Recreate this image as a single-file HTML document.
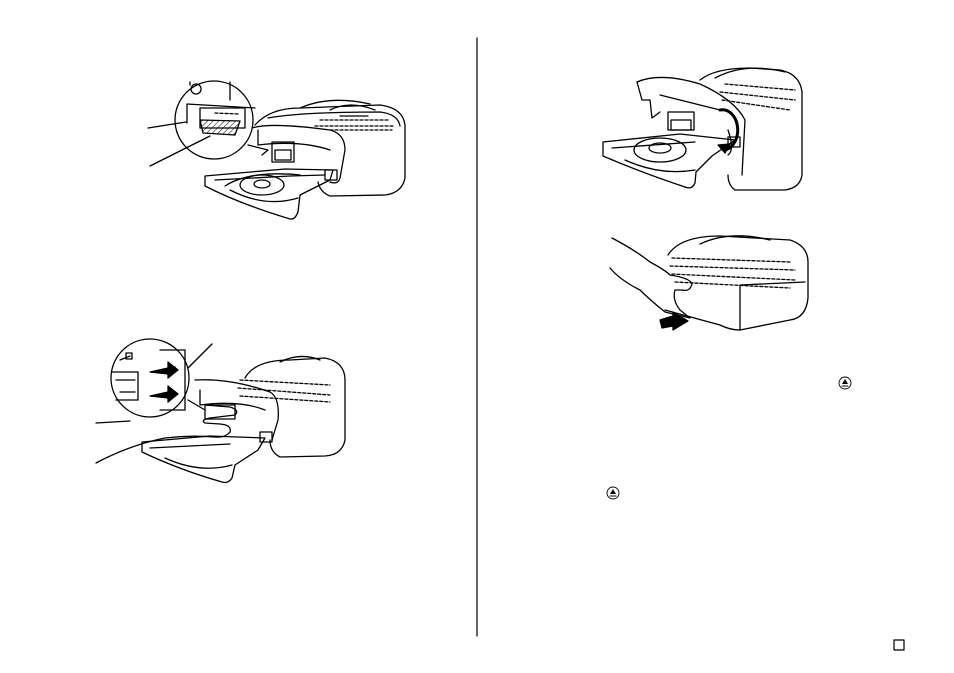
<!DOCTYPE html>
<html><head><meta charset="utf-8"><style>
html,body{margin:0;padding:0;background:#fff;}
svg{display:block}
</style></head><body>
<svg width="954" height="673" viewBox="0 0 954 673" xmlns="http://www.w3.org/2000/svg" fill="none" stroke="#000" stroke-width="1.3" stroke-linejoin="round" stroke-linecap="round">
<line x1="477" y1="38" x2="477" y2="636" stroke-width="1.2"/>
<rect x="894" y="640" width="10" height="10" stroke-width="1.2"/>
<g font-family="Liberation Sans, sans-serif" font-size="9">
<circle cx="845" cy="383" r="6" stroke-width="0.9"/><path d="M842 384 L845 379 L848 384 Z" fill="#000" stroke="none"/><line x1="842" y1="386" x2="848" y2="386" stroke-width="0.9"/>
<circle cx="613" cy="493" r="6" stroke-width="0.9"/><path d="M610 494 L613 489 L616 494 Z" fill="#000" stroke="none"/><line x1="610" y1="496" x2="616" y2="496" stroke-width="0.9"/>
</g>

<!-- Printer 1 -->
<g>
<path d="M255 125 Q270 108 300 108 L380 105 Q403 108 405 125 L405 178 Q402 193 385 195 L330 196 Q320 192 318 182"/>
<path d="M300 108 Q330 95 370 104"/>
<path d="M268 118 Q300 112 380 112 Q398 114 400 126"/>
<path d="M330 110 Q350 100 375 110 M340 116 L368 116"/>
<path d="M320 120 L390 120 M315 126 L395 126 M330 130 L392 130" stroke-dasharray="3 2"/>
<path d="M252 128 Q270 122 330 130 Q345 134 345 150 L340 178 Q338 185 330 182"/>
<path d="M258 130 L258 145 Q300 140 330 150"/>
<rect x="272" y="142" width="22" height="20"/><rect x="275" y="150" width="16" height="10"/>
<path d="M205 176 L285 169 L333 170 L330 180 L300 195 L298 212 Q295 220 290 219 Q240 204 205 186 Z"/>
<path d="M215 180 L290 176 L325 175"/>
<path d="M230 190 Q265 208 298 198"/>
<ellipse cx="262" cy="185" rx="22" ry="10"/><ellipse cx="262" cy="184" rx="8" ry="4"/>
<path d="M225 186 Q250 170 300 175"/>
<rect x="325" y="170" width="12" height="10"/>
<circle cx="214" cy="120" r="39" fill="#fff"/>
<path d="M190 82 L190 85 M196 84 a5 5 0 1 0 0.1 0"/>
<path d="M187 104 L187 123 M230 82 L230 100 M187 104 L255 108"/>
<path d="M200 108 L245 108 L245 128 L200 128 Z"/>
<path d="M200 120 L240 121 L235 135 L203 133 Z" fill="url(#h)"/>
<line x1="215" y1="113" x2="238" y2="114" stroke-dasharray="3 2"/>
<path d="M248 145 L268 150 L262 155"/>
<line x1="148" y1="128" x2="186" y2="122"/>
<line x1="150" y1="166" x2="210" y2="136"/>
</g>
<defs><pattern id="h" width="4" height="4" patternUnits="userSpaceOnUse" patternTransform="rotate(45)"><line x1="0" y1="0" x2="0" y2="4" stroke="#000" stroke-width="1"/></pattern></defs>

<!-- Printer 2 -->
<g>
<path d="M245 378 Q255 360 290 360 L325 358 Q345 362 345 380 L345 440 Q342 455 325 456 L280 457 Q270 452 270 440"/>
<path d="M280 362 Q300 352 320 360"/>
<path d="M240 380 L330 385 M238 388 L330 395 M240 396 L330 402" stroke-dasharray="3 2"/>
<path d="M195 380 Q230 378 270 392 Q280 398 278 420 L272 440"/>
<path d="M200 390 L200 405 Q240 400 265 410"/>
<path d="M142 442 L210 436 L265 438 L258 450 L235 465 L232 478 Q228 484 222 482 Q180 470 142 452 Z"/>
<path d="M150 448 L230 444"/><path d="M165 458 Q200 474 232 465"/>
<rect x="260" y="432" width="12" height="10"/>
<path d="M96 463 Q130 445 165 438 Q190 435 215 437 Q225 438 230 432 Q232 425 220 424 L205 423 Q200 420 210 418 L235 415 Q240 410 230 407 L205 405"/>
<path d="M96 423 L130 421"/>
<rect x="205" y="405" width="30" height="14"/>
<circle cx="150" cy="378" r="39" fill="#fff"/>
<path d="M112 372 L138 372 L138 400 L116 400 M116 380 L135 380 M120 392 L135 392"/>
<path d="M160 350 L185 350 L185 410 L160 410" />
<path d="M150 372 L168 368 L168 362 L178 370 L168 378 L168 374 Z" fill="#000"/>
<path d="M150 396 L168 392 L168 386 L178 394 L168 402 L168 398 Z" fill="#000"/>
<path d="M120 360 L130 356"/><rect x="126" y="353" width="6" height="6"/><rect x="170" y="367" width="5" height="5"/>
<line x1="188" y1="368" x2="212" y2="344"/>
<path d="M188 400 L205 410"/>
</g>

<!-- Printer 3 -->
<g>
<path d="M700 80 Q715 68 750 68 L780 70 Q800 74 802 92 L802 175 Q800 188 785 190 L735 190 Q728 185 728 175"/>
<path d="M715 78 Q745 62 785 72"/>
<path d="M725 84 L795 90 M720 92 L795 100 M722 100 L790 110" stroke-dasharray="3 2"/>
<path d="M637 82 Q660 72 700 84 Q735 100 745 120 L742 175"/>
<path d="M637 82 L642 100 L650 100 L652 118 L660 112"/>
<path d="M660 95 L720 110"/>
<path d="M728 130 Q735 150 728 155"/>
<rect x="668" y="112" width="26" height="18"/><rect x="671" y="120" width="20" height="10"/>
<path d="M720 110 A12 16 0 0 1 725 150" stroke-width="3"/><path d="M718 145 L725 153 L730 144 Z" fill="#000"/>
<path d="M603 142 L680 134 L735 140 L712 156 L696 172 L695 183 Q692 190 685 187 Q640 172 603 156 Z"/>
<path d="M612 148 L695 142"/><path d="M625 160 Q660 176 695 170"/>
<ellipse cx="660" cy="150" rx="26" ry="12"/><ellipse cx="660" cy="148" rx="11" ry="5"/>
<rect x="728" y="137" width="12" height="10"/>
</g>

<!-- Printer 4 -->
<g>
<path d="M668 255 Q680 236 720 236 L790 240 Q808 246 808 262 L808 298 Q806 318 790 320 L740 330 Q730 330 720 325 L665 310"/>
<path d="M700 244 Q730 230 770 240"/>
<path d="M672 258 L790 262 M670 266 L795 270 M672 274 L795 280 M675 282 L790 288" stroke-dasharray="3 2"/>
<path d="M740 285 L740 330 M740 285 L805 282"/>
<path d="M612 238 Q635 250 650 262 Q665 270 670 275 Q690 278 692 284 Q690 292 682 290 L675 290 Q672 300 680 310 L690 318 L665 312 Q650 300 640 290 Q620 280 610 268"/>
<path d="M660 320 L673 316 L673 312 L688 321 L673 330 L673 326 L662 328 Z" fill="#000"/>
</g>
</svg>
</body></html>
